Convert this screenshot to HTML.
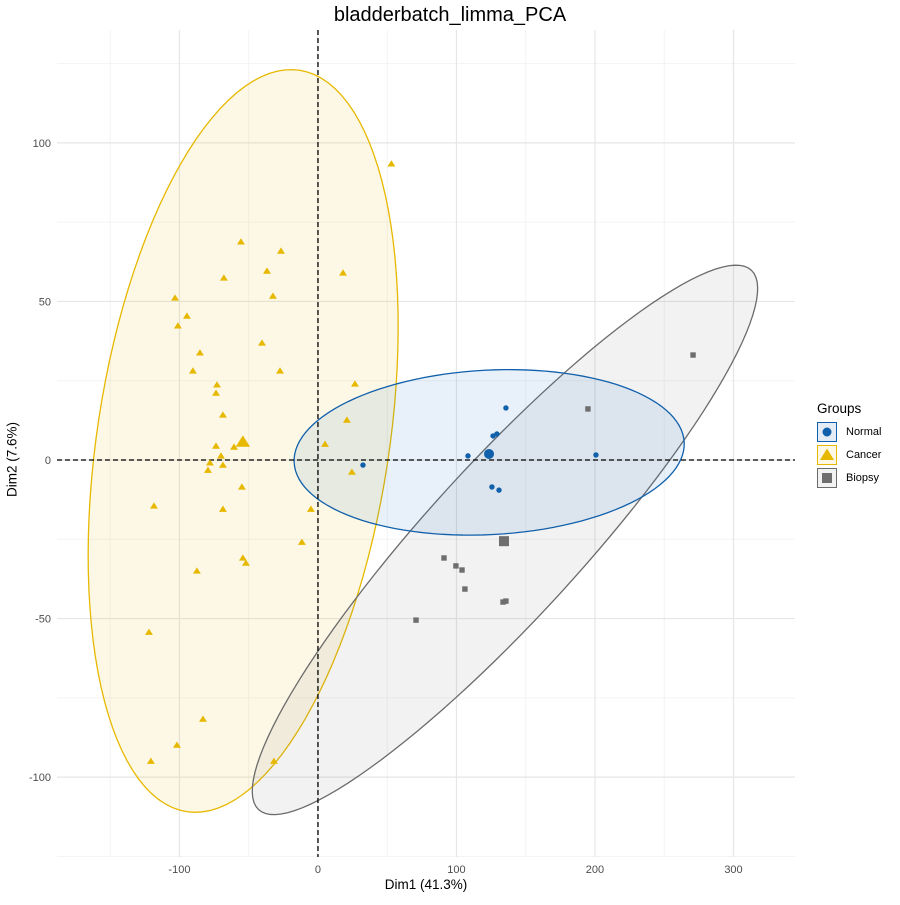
<!DOCTYPE html>
<html><head><meta charset="utf-8"><style>
body{margin:0;background:#fff;font-family:"Liberation Sans",sans-serif}
</style></head><body>
<svg id="c" width="900" height="900" xmlns="http://www.w3.org/2000/svg" font-family="Liberation Sans, sans-serif"></svg>
<script>
const xTicks=[-100,0,100,200,300];
const yTicks=[-100,-50,0,50,100];
const xMinor=[-150,-50,50,150,250];
const yMinor=[-125,-75,-25,25,75,125];
const cancerX=[53,-55.6,-26.7,-36.8,-67.9,18.1,-103.2,-32.5,-94.6,-101.1,-40.4,-85.2,-90.3,-27.4,26.7,-72.9,-73.6,-68.6,20.9,-73.6,-60.6,5.1,-70,-78,-68.6,-79.4,24.5,-54.9,-118.4,-68.6,-5.1,-11.6,-54.2,-52,-87.4,-122,-83,-101.8,-120.6,-31.8];
const cancerY=[93.4,68.8,65.9,59.6,57.4,59,51.1,51.7,45.4,42.3,36.9,33.8,28.1,28.1,24,23.7,21.1,14.2,12.6,4.4,4.1,5,1.3,-0.9,-1.6,-3.2,-3.8,-8.5,-14.5,-15.5,-15.5,-25.9,-30.9,-32.5,-35,-54.3,-81.7,-89.9,-95,-95];
const normalX=[32.5,108.3,126.4,129.2,135.7,125.6,130.7,200.7];
const normalY=[-1.6,1.3,7.6,8.2,16.4,-8.5,-9.5,1.6];
const biopsyX=[270.8,194.9,91,99.6,104,106.1,133.6,135.7,70.8];
const biopsyY=[33.1,16.1,-30.9,-33.4,-34.7,-40.7,-44.8,-44.5,-50.5];
const centroidX=[123.5,-54.2,134.3];
const centroidY=[1.9,5.7,-25.6];
// ellipse: center, major vector, minor vector (data units)
const ellCancer=[-54,6,40.8,116.9,104.2,-7.0];
const ellNormal=[123.6,2.4,140.8,3.2,3.0,-25.9];
const ellBiopsy=[135,-25.2,178,85,40.0,-16.8];

const X0=57,X1=795,Y0=30,Y1=857;
const xMin=-188.4,xMax=344.4,yMin=-125.2,yMax=135.6;
const sx=v=>X0+(v-xMin)/(xMax-xMin)*(X1-X0);
const sy=v=>Y1-(v-yMin)/(yMax-yMin)*(Y1-Y0);
const svg=document.getElementById('c');
const NS='http://www.w3.org/2000/svg';
function mk(t,a,p){const e=document.createElementNS(NS,t);for(const k in a)e.setAttribute(k,a[k]);(p||svg).appendChild(e);return e;}
const grid=mk('g',{});


xMinor.forEach(v=>mk('line',{x1:sx(v),x2:sx(v),y1:Y0,y2:Y1,stroke:'#f3f3f3','stroke-width':1},grid));
yMinor.forEach(v=>mk('line',{y1:sy(v),y2:sy(v),x1:X0,x2:X1,stroke:'#f3f3f3','stroke-width':1},grid));
xTicks.forEach(v=>mk('line',{x1:sx(v),x2:sx(v),y1:Y0,y2:Y1,stroke:'#e6e6e6','stroke-width':1.2},grid));
yTicks.forEach(v=>mk('line',{y1:sy(v),y2:sy(v),x1:X0,x2:X1,stroke:'#e6e6e6','stroke-width':1.2},grid));
function ell(p,fill,stroke,name){
  let pts=[];for(let i=0;i<=120;i++){const t=i/120*2*Math.PI;pts.push(sx(p[0]+p[2]*Math.cos(t)+p[4]*Math.sin(t))+','+sy(p[1]+p[3]*Math.cos(t)+p[5]*Math.sin(t)));}
  const e=mk('polygon',{points:pts.join(' '),fill:fill,'fill-opacity':0.1,stroke:stroke,'stroke-width':1.3});
  
  
}
ell(ellCancer,'#E7B800','#E7B800','cancer-ellipse');
ell(ellBiopsy,'#808080','#6b6b6b','biopsy-ellipse');
ell(ellNormal,'#1f78c8','#1060ac','normal-ellipse');
const d1=mk('line',{x1:sx(0),x2:sx(0),y1:Y0,y2:Y1,stroke:'#000','stroke-width':1.3,'stroke-dasharray':'5,3'});


const d2=mk('line',{y1:sy(0),y2:sy(0),x1:X0,x2:X1,stroke:'#000','stroke-width':1.3,'stroke-dasharray':'5,3'});


function tri(x,y,s){return mk('polygon',{points:`${x},${y-s} ${x-s*1.1},${y+s*0.75} ${x+s*1.1},${y+s*0.75}`,fill:'#E7B800'});}
cancerX.forEach((v,i)=>{const e=tri(sx(v),sy(cancerY[i]),3.6);

});
normalX.forEach((v,i)=>{const e=mk('circle',{cx:sx(v),cy:sy(normalY[i]),r:2.7,fill:'#1060ac'});

});
biopsyX.forEach((v,i)=>{const e=mk('rect',{x:sx(v)-2.7,y:sy(biopsyY[i])-2.7,width:5.4,height:5.4,fill:'#6e6e6e'});

});
let c0=mk('circle',{cx:sx(centroidX[0]),cy:sy(centroidY[0]),r:5,fill:'#1060ac'});


let c1=tri(sx(centroidX[1]),sy(centroidY[1]),6.5);


let c2=mk('rect',{x:sx(centroidX[2])-5,y:sy(centroidY[2])-5,width:10,height:10,fill:'#6e6e6e'});


xTicks.forEach(v=>{const t=mk('text',{x:sx(v),y:873,'text-anchor':'middle','font-size':11,fill:'#4d4d4d'});t.textContent=v;

});
yTicks.forEach(v=>{const t=mk('text',{x:51,y:sy(v)+4,'text-anchor':'end','font-size':11,fill:'#4d4d4d'});t.textContent=v;

});
</script>
<div style="position:absolute;left:0;top:4px;width:900px;text-align:center;font-size:20px;color:#000">bladderbatch_limma_PCA</div>
<div style="position:absolute;left:0;top:877px;width:852px;text-align:center;font-size:13.5px">Dim1 (41.3%)</div>
<div style="position:absolute;left:-38px;top:452px;width:100px;text-align:center;font-size:13.5px;transform:rotate(-90deg)">Dim2 (7.6%)</div>
<div style="position:absolute;left:817px;top:401px;font-size:13.5px">
<div>Groups</div>
<div style="display:flex;align-items:center;margin-top:6px"><svg width="20" height="20"><rect x="0.5" y="0.5" width="19" height="19" fill="#e4edf6" stroke="#1060ac"/><circle cx="10" cy="10" r="4.5" fill="#1060ac"/></svg><span style="font-size:11px;margin-left:9px">Normal</span></div>
<div style="display:flex;align-items:center;margin-top:3px"><svg width="20" height="20"><rect x="0.5" y="0.5" width="19" height="19" fill="#fdf7e6" stroke="#E7B800"/><polygon points="10,3.5 3,15 17,15" fill="#E7B800"/></svg><span style="font-size:11px;margin-left:9px">Cancer</span></div>
<div style="display:flex;align-items:center;margin-top:3px"><svg width="20" height="20"><rect x="0.5" y="0.5" width="19" height="19" fill="#f2f2f2" stroke="#6b6b6b"/><rect x="5" y="5" width="10" height="10" fill="#6e6e6e"/></svg><span style="font-size:11px;margin-left:9px">Biopsy</span></div>
</div>
</body></html>
